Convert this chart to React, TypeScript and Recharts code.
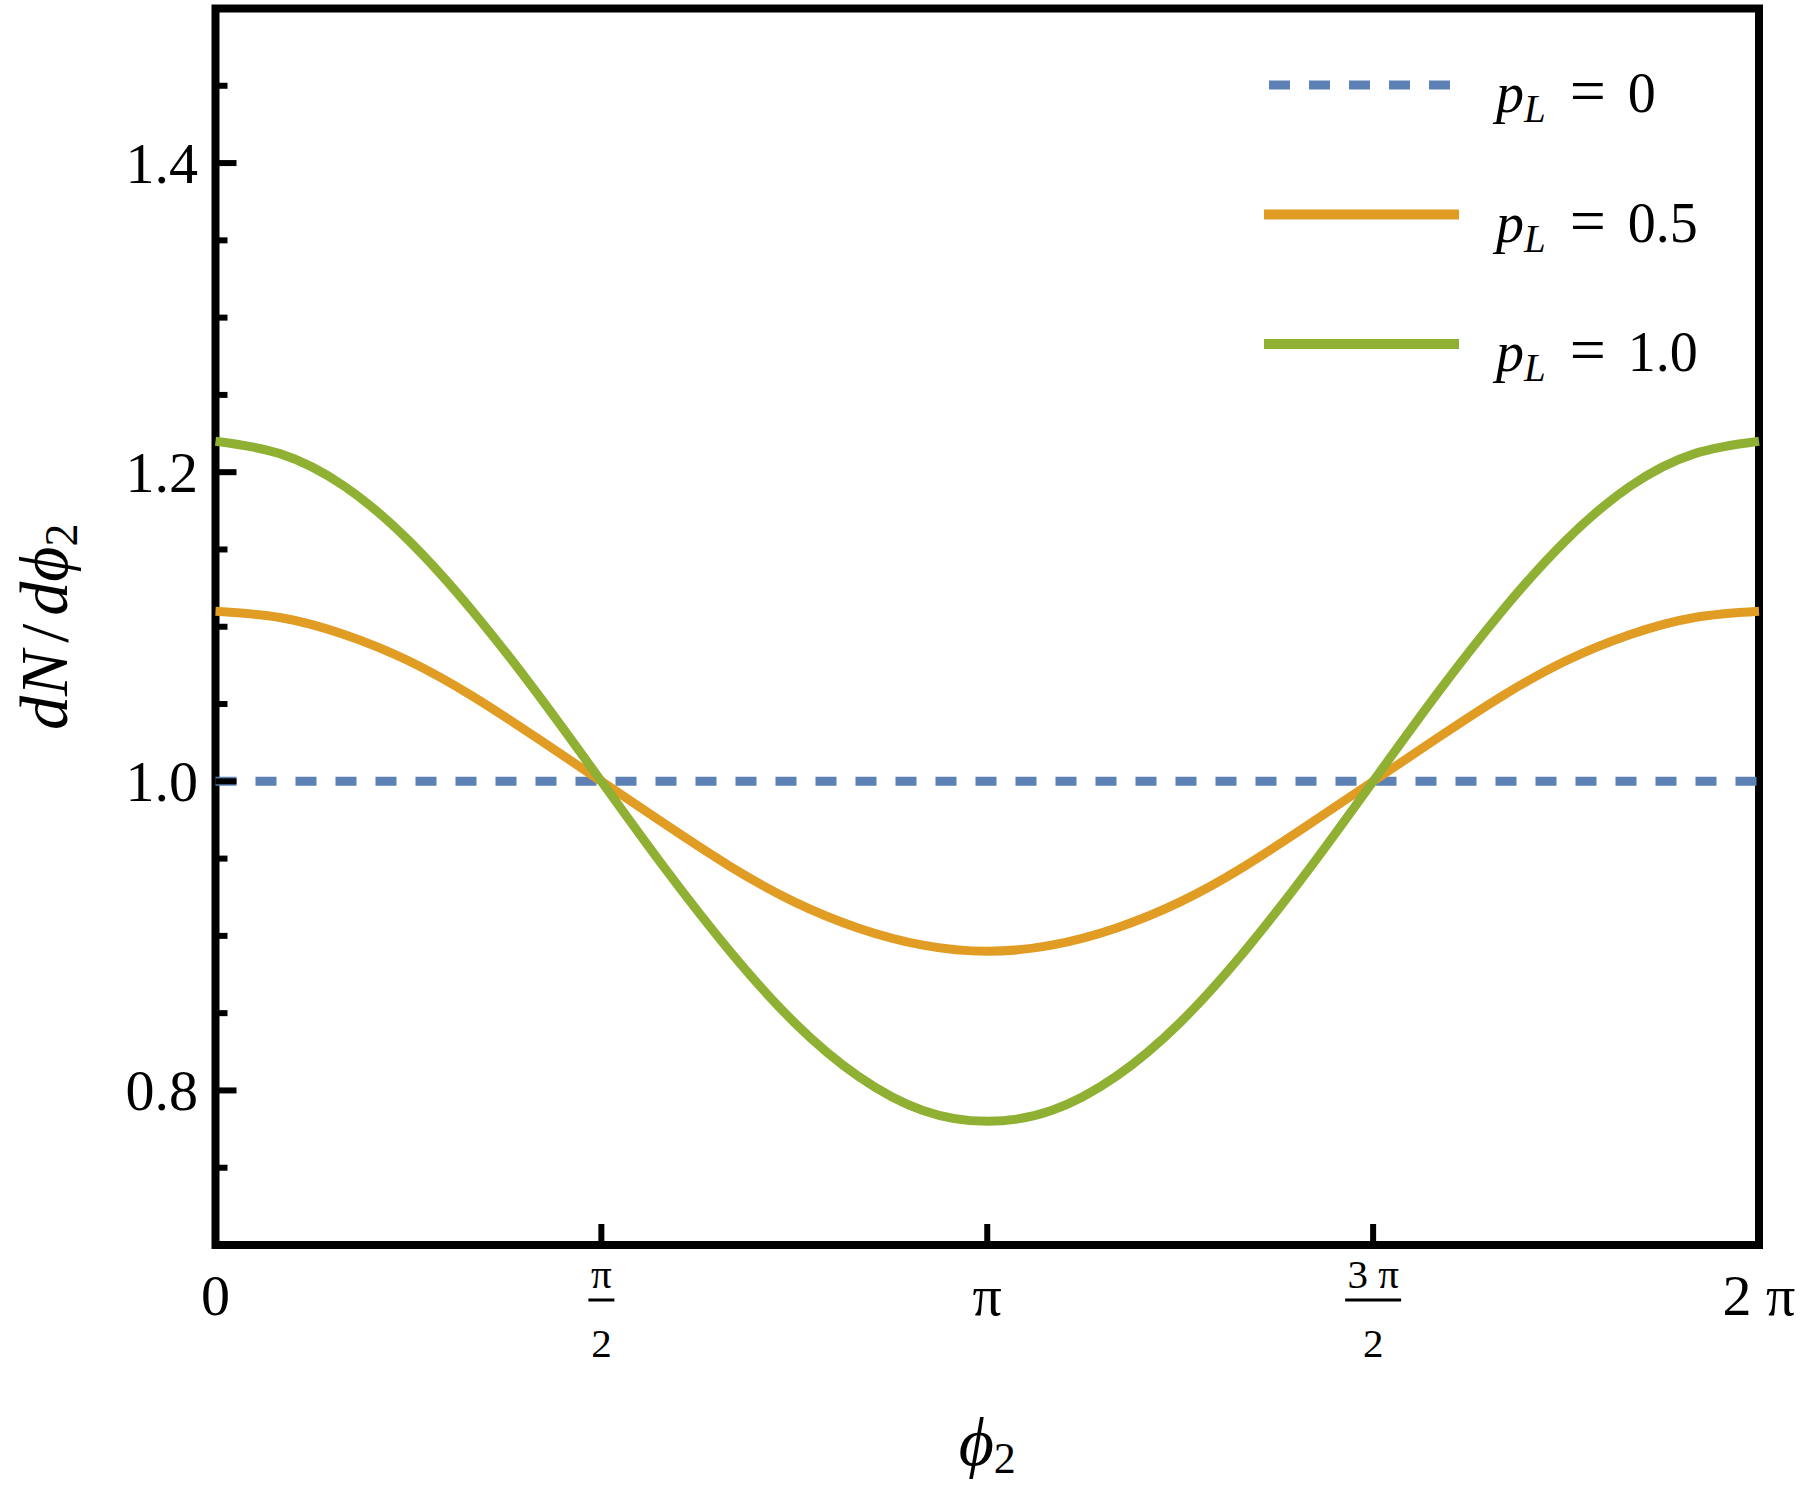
import React from 'react';
import { LineChart, Line, XAxis, YAxis, ReferenceArea, Legend } from 'recharts';

// phi_2 in degrees (axis is labelled in multiples of pi)
const PHI_DEG = [0, 15, 30, 45, 60, 75, 90, 105, 120, 135, 150, 165, 180, 195, 210, 225, 240, 255, 270, 285, 300, 315, 330, 345, 360];

const P_L_0 = [1, 1, 1, 1, 1, 1, 1, 1, 1, 1, 1, 1, 1, 1, 1, 1, 1, 1, 1, 1, 1, 1, 1, 1, 1];
const P_L_05 = [1.110, 1.106, 1.095, 1.078, 1.055, 1.028, 1.000, 0.972, 0.945, 0.922, 0.905, 0.894, 0.890, 0.894, 0.905, 0.922, 0.945, 0.972, 1.000, 1.028, 1.055, 1.078, 1.095, 1.106, 1.110];
const P_L_10 = [1.220, 1.212, 1.191, 1.156, 1.110, 1.057, 1.000, 0.943, 0.890, 0.844, 0.809, 0.787, 0.780, 0.787, 0.809, 0.844, 0.890, 0.943, 1.000, 1.057, 1.110, 1.156, 1.191, 1.212, 1.220];

const X_TICKS = [0, 90, 180, 270, 360];
const X_TICK_LABELS = [
  { main: '0' },
  { num: 'π', den: '2' },
  { main: 'π' },
  { num: '3 π', den: '2' },
  { main: '2 π' },
];

const Y_TICKS = [0.75, 0.8, 0.85, 0.9, 0.95, 1.0, 1.05, 1.1, 1.15, 1.2, 1.25, 1.3, 1.35, 1.4, 1.45];
const Y_MAJOR = [0.8, 1.0, 1.2, 1.4];

const SERIES = [
  { key: 'p0', label: '0', color: '#5E81B5', dash: '21 19' },
  { key: 'p05', label: '0.5', color: '#E19C24', dash: undefined },
  { key: 'p10', label: '1.0', color: '#8FB032', dash: undefined },
];

const FONT = "'Liberation Serif', serif";
const txt = { fontFamily: FONT };

const data = PHI_DEG.map((phi, i) => ({
  phi,
  p0: P_L_0[i],
  p05: P_L_05[i],
  p10: P_L_10[i],
}));

const YTick = ({ x, y, payload }: any) => {
  const v = payload.value;
  const major = Y_MAJOR.some((m) => Math.abs(m - v) < 1e-6);
  return (
    <g>
      <line x1={x} x2={x + (major ? 21 : 12)} y1={y} y2={y} stroke="#000" strokeWidth={6} />
      {major && (
        <text x={x - 17.5} y={y + 20} textAnchor="end" style={txt} fontSize={58} fill="#000">
          {v.toFixed(1)}
        </text>
      )}
    </g>
  );
};

const XTick = ({ x, y, payload, index }: any) => {
  const lbl = X_TICK_LABELS[X_TICKS.indexOf(payload.value)] || X_TICK_LABELS[index];
  const inner = payload.value !== X_TICKS[0] && payload.value !== X_TICKS[X_TICKS.length - 1];
  return (
    <g>
      {inner && <line x1={x} x2={x} y1={y} y2={y - 21} stroke="#000" strokeWidth={6} />}
      {lbl.main !== undefined ? (
        <text x={x} y={y + 70} textAnchor="middle" style={txt} fontSize={58} fill="#000">
          {lbl.main}
        </text>
      ) : (
        <g>
          <text x={x} y={y + 43} textAnchor="middle" style={txt} fontSize={41} fill="#000">
            {lbl.num}
          </text>
          <line
            x1={x - (lbl.num.length > 1 ? 28 : 13)}
            x2={x + (lbl.num.length > 1 ? 28 : 13)}
            y1={y + 55}
            y2={y + 55}
            stroke="#000"
            strokeWidth={3}
          />
          <text x={x} y={y + 112} textAnchor="middle" style={txt} fontSize={41} fill="#000">
            {lbl.den}
          </text>
        </g>
      )}
    </g>
  );
};

const renderLegend = () => (
  <svg width={1800} height={420} style={{ display: 'block' }}>
    {SERIES.map((s, i) => {
      const cy = 85 + i * 129.5;
      return (
        <g key={s.key}>
          <line
            x1={s.dash ? 1269 : 1264}
            x2={s.dash ? 1450 : 1459}
            y1={cy}
            y2={cy}
            stroke={s.color}
            strokeWidth={s.dash ? 9 : 10}
            strokeDasharray={s.dash}
          />
          <text x={1496} y={cy + 27} style={txt} fontSize={56} fill="#000">
            <tspan fontStyle="italic">p</tspan>
            <tspan fontStyle="italic" fontSize={39} dy={10}>L</tspan>
            <tspan dy={-10} dx={24} fontSize={64}>=</tspan>
            <tspan dx={22}>{s.label}</tspan>
          </text>
        </g>
      );
    })}
  </svg>
);

const YLabel = ({ viewBox }: any) => {
  const cx = viewBox.x + 67;
  const cy = viewBox.y + viewBox.height / 2;
  return (
    <text
      x={cx}
      y={cy}
      transform={`rotate(-90, ${cx}, ${cy})`}
      textAnchor="middle"
      style={txt}
      fontSize={68}
      fill="#000"
    >
      <tspan fontStyle="italic">dN</tspan>
      <tspan dx={8}>/</tspan>
      <tspan fontStyle="italic" dx={8}>dϕ</tspan>
      <tspan fontSize={46} dy={10}>2</tspan>
    </text>
  );
};

const XLabel = ({ viewBox }: any) => {
  const cx = viewBox.x + viewBox.width / 2;
  const by = viewBox.y + 220;
  return (
    <text x={cx} y={by} textAnchor="middle" style={txt} fontSize={68} fill="#000">
      <tspan fontStyle="italic">ϕ</tspan>
      <tspan fontSize={44} dy={8}>2</tspan>
    </text>
  );
};

export default function App() {
  return (
    <div style={{ position: 'absolute', left: 0, top: 0, width: 1800, height: 1495, background: '#fff' }}>
      <LineChart width={1800} height={1495} data={data} margin={{ top: 8.5, right: 41, left: 0, bottom: 0 }}>
        <XAxis
          dataKey="phi"
          type="number"
          domain={[0, 360]}
          ticks={X_TICKS}
          interval={0}
          height={250}
          tickSize={0}
          tickMargin={0}
          axisLine={false}
          tickLine={false}
          tick={<XTick />}
          label={<XLabel />}
        />
        <YAxis
          type="number"
          domain={[0.7, 1.5]}
          ticks={Y_TICKS}
          interval={0}
          width={215.5}
          tickSize={0}
          tickMargin={0}
          axisLine={false}
          tickLine={false}
          allowDataOverflow
          tick={<YTick />}
          label={<YLabel />}
        />
        {SERIES.map((s) => (
          <Line
            key={s.key}
            type="natural"
            dataKey={s.key}
            stroke={s.color}
            strokeWidth={9}
            strokeDasharray={s.dash}
            dot={false}
            activeDot={false}
            isAnimationActive={false}
          />
        ))}
        <ReferenceArea
          x1={0}
          x2={360}
          y1={0.7}
          y2={1.5}
          fill="none"
          fillOpacity={0}
          stroke="#000"
          strokeWidth={8}
          ifOverflow="visible"
        />
        <Legend
          layout="horizontal"
          verticalAlign="middle"
          align="center"
          content={renderLegend}
          wrapperStyle={{ left: 0, top: 0, width: 1800, height: 420, pointerEvents: 'none' }}
        />
      </LineChart>
    </div>
  );
}
